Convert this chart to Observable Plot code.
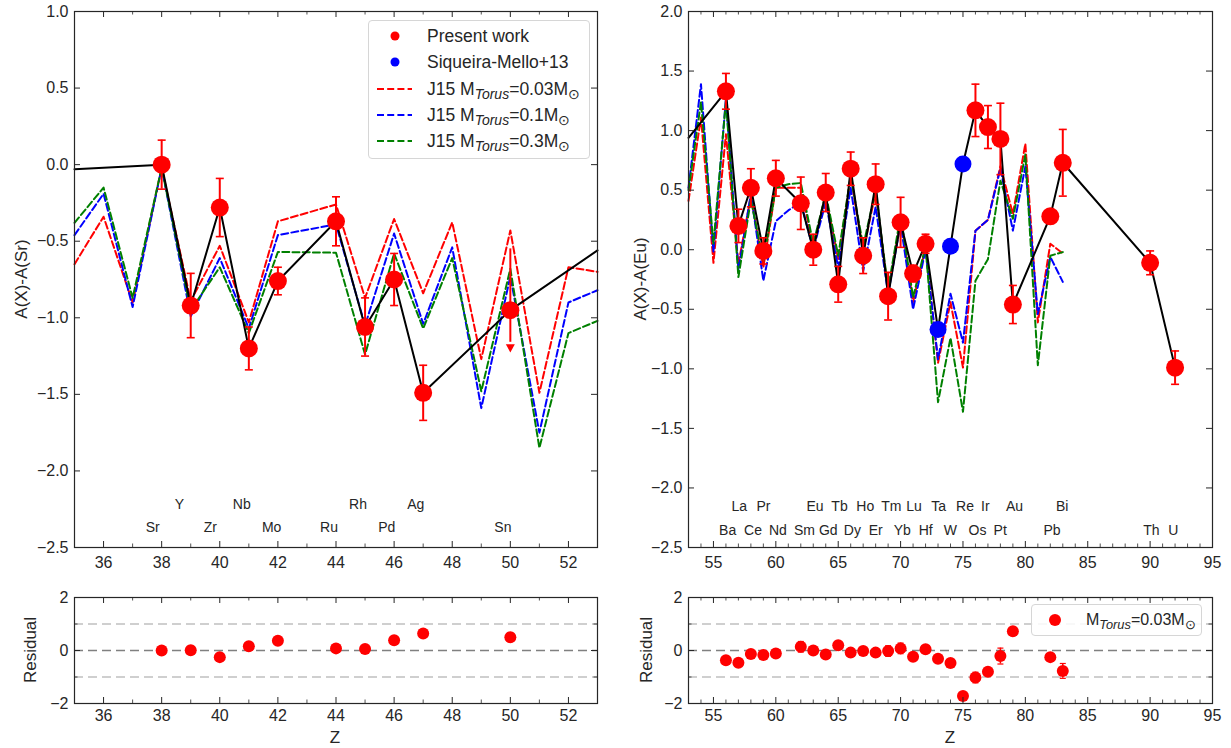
<!DOCTYPE html>
<html><head><meta charset="utf-8">
<script src="https://cdn.jsdelivr.net/npm/d3@7"></script>
<script src="https://cdn.jsdelivr.net/npm/@observablehq/plot@0.6"></script>
<style>
body{margin:0;background:#fff;font-family:"Liberation Sans",Arial,sans-serif;color:#262626;}
#root{position:relative;width:1231px;height:748px;overflow:hidden;background:#fff;}
.panel{position:absolute;}
.lab{position:absolute;font-size:17px;white-space:nowrap;color:#262626;}
.rot{transform:translate(-50%,-50%) rotate(-90deg);}
.ctr{transform:translate(-50%,-50%);}
.legend{position:absolute;border:1px solid #d6d6d6;border-radius:4px;background:rgba(255,255,255,0.85);font-size:16px;color:#262626;}
.row{position:absolute;left:0;right:0;height:24px;}
.row svg{position:absolute;left:0;top:0;}
.row span{position:absolute;top:1px;white-space:nowrap;line-height:22px;}
sub{font-size:0.8em;vertical-align:-0.3em;line-height:0;}
</style></head>
<body><div id="root"></div>
<script>
// ================= DATA =================
// Left panel: A(X)-A(Sr)
const srZ    = [38, 39, 40, 41, 42, 44, 45, 46, 47, 50];
const srEl   = ["Sr","Y","Zr","Nb","Mo","Ru","Rh","Pd","Ag","Sn"];
const srObs  = [0.00, -0.92, -0.28, -1.20, -0.76, -0.37, -1.06, -0.75, -1.49, -0.95];
const srErr  = [0.16, 0.21, 0.19, 0.14, 0.09, 0.16, 0.19, 0.17, 0.18, 0];
const srLimZ = [50], srLimTop = [-0.75], srLimTip = [-1.20];      // Sn upper limit
const srLinkZ = [35, 53], srLinkY = [-0.03, -0.56];               // connecting line continues off-panel
const srModelZ   = [35, 36, 37, 38, 39, 40, 41, 42, 44, 45, 46, 47, 48, 49, 50, 51, 52, 53];
const srModel003 = [-0.65,-0.34,-0.90,-0.02,-0.89,-0.53,-1.03,-0.37,-0.26,-0.87,-0.355,-0.84,-0.377,-1.27,-0.43,-1.49,-0.67,-0.70];
const srModel01  = [-0.46,-0.19,-0.93,-0.02,-0.99,-0.61,-1.07,-0.46,-0.39,-1.05,-0.45,-1.04,-0.54,-1.59,-0.73,-1.75,-0.90,-0.82];
const srModel03  = [-0.38,-0.15,-0.87,-0.02,-0.95,-0.67,-1.10,-0.57,-0.575,-1.24,-0.58,-1.07,-0.61,-1.48,-0.68,-1.85,-1.10,-1.02];
const srRes    = [0.00, 0.01, -0.25, 0.16, 0.37, 0.08, 0.06, 0.39, 0.64, 0.50];
const srResErr = [0.08, 0.15, 0.13, 0.06, 0.06, 0.08, 0.10, 0.13, 0.12, 0.16];

// Right panel: A(X)-A(Eu)
const euZ   = [56,57,58,59,60,62,63,64,65,66,67,68,69,70,71,72,76,77,78,79,82,83,90,92];
const euEl  = ["Ba","La","Ce","Pr","Nd","Sm","Eu","Gd","Tb","Dy","Ho","Er","Tm","Yb","Lu","Hf","Os","Ir","Pt","Au","Pb","Bi","Th","U"];
const euObs = [1.33,0.20,0.52,-0.01,0.60,0.39,0.00,0.48,-0.29,0.68,-0.05,0.55,-0.39,0.23,-0.20,0.05,1.17,1.03,0.93,-0.46,0.28,0.73,-0.11,-0.99];
const euErr = [0.15,0.14,0.16,0.11,0.15,0.22,0.13,0.16,0.15,0.14,0.15,0.17,0.20,0.21,0.07,0.08,0.22,0.18,0.30,0.16,0.05,0.28,0.10,0.14];
const smZ   = [73, 74, 75];
const smEl  = ["Ta","W","Re"];
const smObs = [-0.67, 0.03, 0.72];
const euLinkZ = [53], euLinkY = [0.94];
const euModelZ   = [53,54,55,56,57,58,59,60,61,62,63,64,65,66,67,68,69,70,71,72,73,74,75,76,77,78,79,80,81,82,83];
const euModel003 = [0.41,1.11,-0.11,0.97,-0.12,0.45,-0.15,0.52,0.52,0.52,0.02,0.45,-0.08,0.61,-0.01,0.48,-0.35,0.25,-0.44,0.02,-0.95,-0.44,-0.99,0.16,0.25,0.70,0.30,0.89,-0.61,0.05,-0.03];
const euModel01  = [0.52,1.39,-0.02,1.27,-0.17,0.47,-0.26,0.24,0.33,0.40,0.00,0.40,-0.15,0.52,-0.18,0.36,-0.37,0.22,-0.50,0.00,-0.92,-0.37,-0.78,0.16,0.25,0.68,0.16,0.70,-0.54,-0.06,-0.27];
const euModel03  = [0.50,1.24,0.05,1.25,-0.23,0.42,-0.10,0.52,0.55,0.56,0.05,0.47,-0.05,0.62,0.03,0.50,-0.33,0.29,-0.40,0.03,-1.28,-0.74,-1.36,-0.26,-0.08,0.58,0.26,0.80,-0.97,-0.05,-0.02];
const euResZ   = [56,57,58,59,60,62,63,64,65,66,67,68,69,70,71,72,73,74,75,76,77,78,79,82,83];
const euRes    = [-0.37,-0.46,-0.13,-0.17,-0.11,0.14,0.00,-0.15,0.20,-0.08,-0.02,-0.08,-0.02,0.08,-0.24,0.05,-0.31,-0.47,-1.72,-1.02,-0.80,-0.21,0.73,-0.25,-0.77];
const euResErr = [0.10,0.10,0.10,0.10,0.12,0.20,0.10,0.10,0.10,0.10,0.10,0.12,0.20,0.20,0.08,0.10,0.10,0.10,0.10,0.20,0.15,0.30,0.10,0.08,0.28];

// Series styling / legend labels
const models = [
  {key: "0.03", color: "#ff0000"},
  {key: "0.1",  color: "#0000ff"},
  {key: "0.3",  color: "#008000"}
];
const leftTicksX = [36,38,40,42,44,46,48,50,52];
const leftMinorX = d3.range(35, 54);
const rightTicksX = [55,60,65,70,75,80,85,90,95];
const rightMinorX = d3.range(53, 96);
const leftTicksY = [-2.5,-2.0,-1.5,-1.0,-0.5,0.0,0.5,1.0];
const rightTicksY = [-2.5,-2.0,-1.5,-1.0,-0.5,0.0,0.5,1.0,1.5,2.0];
const resTicksY = [-2, 0, 2];
const resMinorY = [-1, 1];

// ================= HELPERS =================
const INK = "#262626";
const RED = "#ff0000", BLUE = "#0000ff";
const FONT = "Liberation Sans, Arial, sans-serif";
const capSymbol = {draw(ctx, size) { const w = Math.sqrt(size / Math.PI); ctx.moveTo(-w, 0); ctx.lineTo(w, 0); }};
const downTri = {draw(ctx, size) { const r = Math.sqrt(size / Math.PI); ctx.moveTo(-r, -r * 0.9); ctx.lineTo(r, -r * 0.9); ctx.lineTo(0, r * 0.9); ctx.closePath(); }};

function zip(z, y, extra = {}) {
  return z.map((v, i) => {
    const o = {z: v, y: y[i]};
    for (const k in extra) o[k] = extra[k][i];
    return o;
  });
}

function panel({left, top, width, height, mt, mr, mb, ml, xDomain, yDomain, xMajor, xMinor, yMajor, yMinor = [], yFmt, xPad, marks}) {
  const W = width - ml - mr, H = height - mt - mb;
  const maj = 6, mnr = 3.5;
  const tk = [];
  const xm = xMinor.filter(d => !xMajor.includes(d));
  tk.push(Plot.tickX(xMajor, {x: d => d, insetTop: H - maj, stroke: INK, strokeWidth: 1}));
  tk.push(Plot.tickX(xMajor, {x: d => d, insetBottom: H - maj, stroke: INK, strokeWidth: 1}));
  tk.push(Plot.tickX(xm, {x: d => d, insetTop: H - mnr, stroke: INK, strokeWidth: 0.8}));
  tk.push(Plot.tickX(xm, {x: d => d, insetBottom: H - mnr, stroke: INK, strokeWidth: 0.8}));
  tk.push(Plot.tickY(yMajor, {y: d => d, insetRight: W - maj, stroke: INK, strokeWidth: 1}));
  tk.push(Plot.tickY(yMajor, {y: d => d, insetLeft: W - maj, stroke: INK, strokeWidth: 1}));
  if (yMinor.length) {
    tk.push(Plot.tickY(yMinor, {y: d => d, insetRight: W - mnr, stroke: INK, strokeWidth: 0.8}));
    tk.push(Plot.tickY(yMinor, {y: d => d, insetLeft: W - mnr, stroke: INK, strokeWidth: 0.8}));
  }
  const svg = Plot.plot({
    width, height, marginTop: mt, marginRight: mr, marginBottom: mb, marginLeft: ml,
    style: {fontFamily: FONT, fontSize: "16px", color: INK, background: "transparent", overflow: "visible"},
    x: {domain: xDomain, ticks: xMajor, tickSize: 0, tickPadding: xPad, tickFormat: "d", label: null},
    y: {domain: yDomain, ticks: yMajor, tickSize: 0, tickPadding: 6, tickFormat: yFmt, label: null},
    marks: [...marks, Plot.frame({stroke: INK, strokeWidth: 1.2}), ...tk]
  });
  const div = document.createElement("div");
  div.className = "panel";
  div.style.left = left + "px"; div.style.top = top + "px";
  div.appendChild(svg);
  document.getElementById("root").appendChild(div);
}

function modelMarks(zs, series) {
  return series.map((ys, i) => Plot.line(zip(zs, ys), {x: "z", y: "y", stroke: models[i].color, strokeWidth: 2, strokeDasharray: "7,3.2"}));
}
function errMarks(data, r = 4, sw = 2) {
  const d = data.filter(p => p.e > 0);
  return [
    Plot.ruleX(d, {x: "z", y1: p => p.y - p.e, y2: p => p.y + p.e, stroke: RED, strokeWidth: sw}),
    Plot.dot(d, {x: "z", y: p => p.y + p.e, symbol: capSymbol, r, stroke: RED, strokeWidth: sw * 0.8, fill: "none"}),
    Plot.dot(d, {x: "z", y: p => p.y - p.e, symbol: capSymbol, r, stroke: RED, strokeWidth: sw * 0.8, fill: "none"})
  ];
}
function labelMarks(data, upperY, lowerY) {
  return [Plot.text(data, {x: p => p.z - 0.55, y: p => (p.z % 2 ? upperY : lowerY), text: "el", textAnchor: "start", fontSize: 14, fill: INK})];
}
function addLabel(text, x, y, cls) {
  const d = document.createElement("div");
  d.className = "lab " + cls;
  d.style.left = x + "px"; d.style.top = y + "px";
  d.textContent = text;
  document.getElementById("root").appendChild(d);
}
const yFmt1 = d3.format(".1f");

// ================= LEFT MAIN =================
const srData = zip(srZ, srObs, {e: srErr, el: srEl});
const srLine = [...srData.map(p => ({z: p.z, y: p.y})), ...zip(srLinkZ, srLinkY)].sort((a, b) => a.z - b.z);
const srLim = zip(srLimZ, srLimTop, {tip: srLimTip});
panel({
  left: 0, top: 0, width: 615, height: 580, mt: 11, mr: 18, mb: 33, ml: 74,
  xDomain: [35, 53], yDomain: [-2.5, 1.0], xMajor: leftTicksX, xMinor: leftMinorX, yMajor: leftTicksY, yFmt: yFmt1, xPad: 9,
  marks: [
    ...modelMarks(srModelZ, [srModel003, srModel01, srModel03]),
    Plot.line(srLine, {x: "z", y: "y", stroke: "#000", strokeWidth: 2}),
    ...errMarks(srData),
    Plot.ruleX(srLim, {x: "z", y1: "y", y2: p => p.tip + 0.04, stroke: RED, strokeWidth: 2}),
    Plot.ruleX(srLim, {x: "z", y1: "y", y2: p => p.y + 0.2, stroke: RED, strokeWidth: 2}),
    Plot.dot(srLim, {x: "z", y: "tip", symbol: downTri, r: 4.5, fill: RED, stroke: "none"}),
    Plot.dot(srData, {x: "z", y: "y", r: 9, fill: RED}),
    ...labelMarks(srData, -2.22, -2.37)
  ]
});

// ================= RIGHT MAIN =================
const euData = zip(euZ, euObs, {e: euErr, el: euEl});
const smData = zip(smZ, smObs, {el: smEl});
const euLine = [...euData.map(p => ({z: p.z, y: p.y})), ...smData.map(p => ({z: p.z, y: p.y})), ...zip(euLinkZ, euLinkY)].sort((a, b) => a.z - b.z);
panel({
  left: 615, top: 0, width: 616, height: 580, mt: 11, mr: 19, mb: 33, ml: 73,
  xDomain: [53, 95], yDomain: [-2.5, 2.0], xMajor: rightTicksX, xMinor: rightMinorX, yMajor: rightTicksY, yFmt: yFmt1, xPad: 9,
  marks: [
    ...modelMarks(euModelZ, [euModel003, euModel01, euModel03]),
    Plot.line(euLine, {x: "z", y: "y", stroke: "#000", strokeWidth: 2}),
    ...errMarks(euData),
    Plot.dot(euData, {x: "z", y: "y", r: 9, fill: RED}),
    Plot.dot(smData, {x: "z", y: "y", r: 8.5, fill: BLUE}),
    ...labelMarks([...euData, ...smData], -2.16, -2.36)
  ]
});

// ================= RESIDUALS =================
function resMarks(z, r, e) {
  const d = zip(z, r, {e});
  return [
    Plot.ruleY([-1, 1], {stroke: "#c0c0c0", strokeWidth: 1.5, strokeDasharray: "9,5"}),
    Plot.ruleY([0], {stroke: "#808080", strokeWidth: 1.5, strokeDasharray: "9,5"}),
    ...errMarks(d, 3, 1.5),
    Plot.dot(d, {x: "z", y: "y", r: 6, fill: RED})
  ];
}
panel({
  left: 0, top: 580, width: 615, height: 168, mt: 17, mr: 18, mb: 45, ml: 74,
  xDomain: [35, 53], yDomain: [-2, 2], xMajor: leftTicksX, xMinor: leftMinorX, yMajor: resTicksY, yMinor: resMinorY, yFmt: d3.format("d"), xPad: 6,
  marks: resMarks(srZ, srRes, srResErr)
});
panel({
  left: 615, top: 580, width: 616, height: 168, mt: 17, mr: 19, mb: 45, ml: 73,
  xDomain: [53, 95], yDomain: [-2, 2], xMajor: rightTicksX, xMinor: rightMinorX, yMajor: resTicksY, yMinor: resMinorY, yFmt: d3.format("d"), xPad: 6,
  marks: resMarks(euResZ, euRes, euResErr)
});

// ================= AXIS LABELS =================
addLabel("A(X)-A(Sr)", 22, 279, "rot");
addLabel("A(X)-A(Eu)", 641, 279, "rot");
addLabel("Residual", 31, 650, "rot");
addLabel("Residual", 647, 650, "rot");
addLabel("Z", 335, 738, "ctr");
addLabel("Z", 950, 738, "ctr");

// ================= LEGENDS =================
function massLabel(m) {
  return `M<sub><i>Torus</i></sub>=${m}M<sub>\u2299</sub>`;
}
function makeLegend(left, top, width, height, fontSize, items) {
  const root = d3.select("#root").append("div").attr("class", "legend")
    .style("left", left + "px").style("top", top + "px").style("width", width + "px").style("height", height + "px")
    .style("font-size", fontSize + "px");
  items.forEach(it => {
    const row = root.append("div").attr("class", "row").style("top", (it.cy - 12) + "px");
    const s = row.append("svg").attr("width", 60).attr("height", 24);
    if (it.kind === "dot") s.append("circle").attr("cx", it.mx).attr("cy", 12).attr("r", it.r).attr("fill", it.color);
    else s.append("line").attr("x1", it.mx - 18).attr("x2", it.mx + 17).attr("y1", 12).attr("y2", 12)
      .attr("stroke", it.color).attr("stroke-width", 2).attr("stroke-dasharray", "7,3.2");
    row.append("span").style("left", it.tx + "px").html(it.html);
  });
}
makeLegend(368, 20, 220, 137, 17.5, [
  {kind: "dot", color: RED, r: 4.5, mx: 26, tx: 58, cy: 15, html: "Present work"},
  {kind: "dot", color: BLUE, r: 4.5, mx: 26, tx: 58, cy: 41, html: "Siqueira-Mello+13"},
  ...models.map((m, i) => ({kind: "dash", color: m.color, mx: 26, tx: 58, cy: 68 + i * 26, html: "J15 " + massLabel(m.key)}))
]);
makeLegend(1031, 604, 169, 30, 16, [
  {kind: "dot", color: RED, r: 6, mx: 23, tx: 54, cy: 15, html: massLabel(models[0].key)}
]);
</script></body></html>
